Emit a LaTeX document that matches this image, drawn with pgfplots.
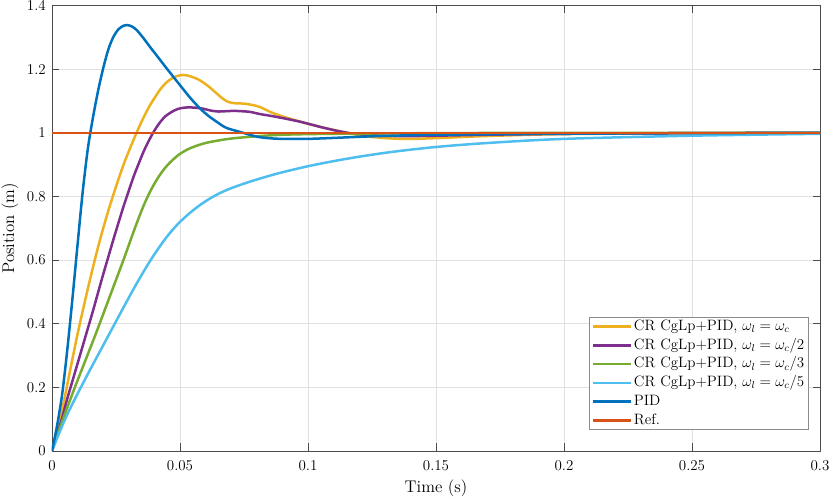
\documentclass[border=0pt]{standalone}
\usepackage{pgfplots}
\pgfplotsset{compat=1.18}
\definecolor{cyel}{HTML}{EDB120}
\definecolor{cpur}{HTML}{7E2F8E}
\definecolor{cgre}{HTML}{77AC30}
\definecolor{ccya}{HTML}{4DBEEE}
\definecolor{cblu}{HTML}{0072BD}
\definecolor{cred}{HTML}{D95319}
\begin{document}
\begin{tikzpicture}
\useasboundingbox (-41.6pt,-37.8pt) rectangle (622.4pt,360.7pt);
\begin{axis}[
  at={(0,0)}, anchor=south west,
  scale only axis, width=614.4pt, height=356.2pt,
  xmin=0, xmax=0.3, ymin=0, ymax=1.4,
  xtick={0,0.05,0.1,0.15,0.2,0.25,0.3},
  xticklabels={0,0.05,0.1,0.15,0.2,0.25,0.3},
  ytick={0,0.2,0.4,0.6,0.8,1,1.2,1.4},
  yticklabels={0,0.2,0.4,0.6,0.8,1,1.2,1.4},
  grid=major,
  major grid style={black!12, line width=0.4pt},
  axis line style={black!70, line width=0.5pt},
  tick style={black!70, line width=0.5pt},
  tick align=inside, major tick length=6pt,
  tick label style={font=\fontsize{12}{14}\selectfont},
  xticklabel style={yshift=-4.3pt},
  yticklabel style={xshift=-1.5pt},
  label style={font=\fontsize{13.5}{16}\selectfont},
  xlabel={Time (s)}, ylabel={Position (m)},
  xlabel style={at={(axis description cs:0.5,0)}, anchor=center, yshift=-29.8pt},
  ylabel style={at={(axis description cs:-0.0547,0.5)}, anchor=center, rotate=0},
  legend cell align=left,
  legend style={at={(0.9857,0.0467)}, anchor=south east, draw=black!45, line width=0.5pt,
    fill=white, inner sep=0pt, inner xsep=2.5pt, row sep=0pt,
    font=\fontsize{12}{14}\selectfont,
    nodes={inner sep=1pt, text height=9.5pt, text depth=3.5pt}},
  legend image code/.code={\draw[#1] (0pt,0pt) -- (30.4pt,0pt);},
]
\addplot[cyel, line width=2pt, smooth, tension=0.5] coordinates {
(0,0) (0.002,0.06) (0.004,0.13) (0.006,0.21) (0.008,0.29) (0.010,0.368)
(0.012,0.440) (0.014,0.510) (0.016,0.577) (0.018,0.641) (0.020,0.700) (0.022,0.755)
(0.024,0.806) (0.026,0.855) (0.028,0.901) (0.030,0.942) (0.0318,0.977) (0.034,1.018)
(0.036,1.052) (0.0383,1.087) (0.0405,1.115) (0.0425,1.139) (0.0448,1.159) (0.047,1.172)
(0.049,1.179) (0.0513,1.182) (0.0535,1.179) (0.0557,1.173) (0.0578,1.165) (0.061,1.147)
(0.0643,1.124) (0.0668,1.107) (0.0689,1.097) (0.0715,1.093) (0.0748,1.092) (0.078,1.088)
(0.0813,1.081) (0.087,1.06) (0.097,1.035) (0.110,1.009)
(0.123,0.989) (0.136,0.981) (0.149,0.983) (0.17,0.99) (0.2,0.996) (0.25,0.999) (0.3,1.0)
};
\addlegendentry{CR CgLp+PID, $\omega_l = \omega_c$}
\addplot[cpur, line width=2pt, smooth, tension=0.5] coordinates {
(0,0) (0.002,0.05) (0.004,0.105) (0.006,0.165) (0.008,0.22) (0.010,0.275)
(0.012,0.33) (0.014,0.385) (0.016,0.44) (0.018,0.498) (0.020,0.555) (0.022,0.61)
(0.024,0.665) (0.026,0.718) (0.028,0.77) (0.030,0.818) (0.032,0.865) (0.034,0.906)
(0.036,0.945) (0.038,0.978) (0.040,1.007) (0.042,1.031) (0.044,1.05) (0.046,1.062)
(0.048,1.071) (0.050,1.077) (0.053,1.080) (0.056,1.079) (0.059,1.076) (0.062,1.070)
(0.065,1.067) (0.068,1.068) (0.071,1.069) (0.074,1.068) (0.0773,1.066) (0.0813,1.059)
(0.0871,1.051) (0.0969,1.035) (0.1066,1.015) (0.1164,0.999) (0.129,0.991) (0.143,0.99)
(0.17,0.994) (0.2,0.997) (0.25,0.999) (0.3,1.0)
};
\addlegendentry{CR CgLp+PID, $\omega_l = \omega_c/2$}
\addplot[cgre, line width=2pt, smooth, tension=0.5] coordinates {
(0,0) (0.002,0.048) (0.004,0.093) (0.006,0.137) (0.008,0.18) (0.010,0.222)
(0.012,0.263) (0.014,0.304) (0.016,0.345) (0.018,0.387) (0.020,0.43) (0.022,0.473)
(0.024,0.516) (0.026,0.559) (0.028,0.602) (0.030,0.647) (0.032,0.692) (0.034,0.735)
(0.036,0.775) (0.038,0.81) (0.040,0.84) (0.042,0.866) (0.044,0.888) (0.046,0.906)
(0.048,0.921) (0.050,0.934) (0.053,0.948) (0.056,0.958) (0.060,0.968) (0.065,0.976)
(0.070,0.982) (0.078,0.988) (0.09,0.994) (0.11,0.997) (0.15,0.999) (0.2,1.0) (0.3,1.0)
};
\addlegendentry{CR CgLp+PID, $\omega_l = \omega_c/3$}
\addplot[ccya, line width=2pt, smooth, tension=0.5] coordinates {
(0,0) (0.002,0.04) (0.004,0.079) (0.006,0.115) (0.008,0.148) (0.010,0.18)
(0.012,0.211) (0.014,0.242) (0.016,0.272) (0.018,0.302) (0.020,0.332) (0.023,0.377)
(0.026,0.422) (0.029,0.467) (0.032,0.511) (0.035,0.553) (0.038,0.593) (0.041,0.63)
(0.044,0.664) (0.047,0.694) (0.050,0.72) (0.054,0.749) (0.058,0.774) (0.062,0.795)
(0.066,0.812) (0.070,0.826) (0.076,0.843) (0.082,0.858) (0.089,0.874) (0.1,0.895)
(0.11,0.911) (0.12,0.925) (0.13,0.937) (0.14,0.947) (0.152,0.957) (0.17,0.968)
(0.2,0.981) (0.25,0.991) (0.3,0.997)
};
\addlegendentry{CR CgLp+PID, $\omega_l = \omega_c/5$}
\addplot[cblu, line width=2pt, smooth, tension=0.5] coordinates {
(0,0) (0.002,0.08) (0.004,0.18) (0.006,0.32) (0.008,0.48) (0.010,0.65)
(0.012,0.815) (0.014,0.950) (0.016,1.048) (0.018,1.132) (0.020,1.203) (0.022,1.262)
(0.024,1.302) (0.026,1.326) (0.028,1.337) (0.0292,1.339) (0.0311,1.335) (0.0331,1.323) (0.0355,1.300)
(0.0383,1.270) (0.0415,1.237) (0.0448,1.2025) (0.050,1.150) (0.054,1.110) (0.0578,1.077)
(0.061,1.054) (0.0643,1.035) (0.068,1.016) (0.0734,1.003) (0.080,0.988) (0.085,0.983)
(0.09,0.981) (0.1,0.981) (0.11,0.984) (0.125,0.989) (0.15,0.994) (0.2,0.997) (0.25,0.999) (0.3,1.0)
};
\addlegendentry{PID}
\addplot[cred, line width=2pt] coordinates {(0,1) (0.3,1)};
\addlegendentry{Ref.}
\end{axis}
\end{tikzpicture}
\end{document}
